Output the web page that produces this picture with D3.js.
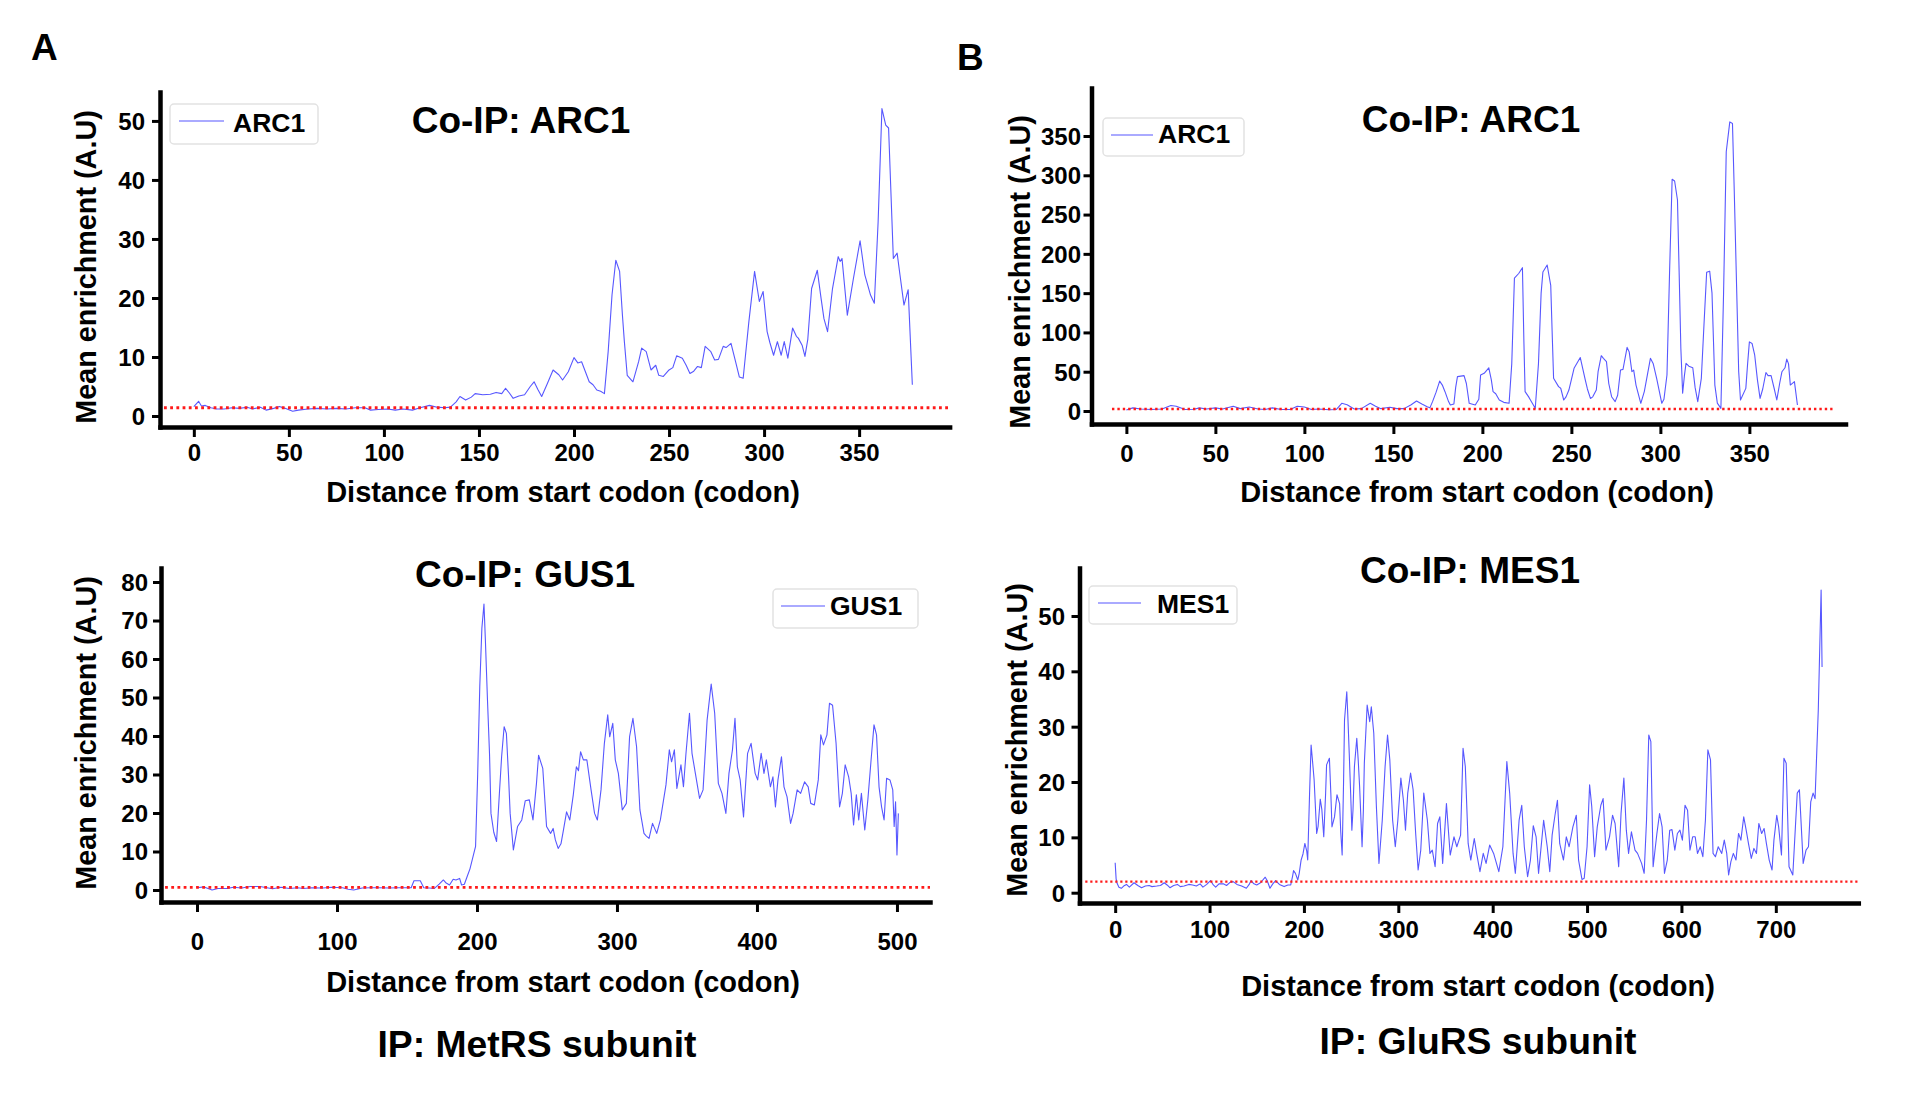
<!DOCTYPE html>
<html><head><meta charset="utf-8">
<script src="https://cdn.jsdelivr.net/npm/d3@7"></script>
<style>
html,body{margin:0;padding:0;background:#fff;}
svg{display:block;}
</style></head><body>
<svg id="fig" width="1932" height="1102"></svg>
<script>
// ---------------- DATA ----------------
// [codon position, mean enrichment]
const arc1MetRS = [[0,1.6],[2.5,2.5],[4,1.7],[6,1.8],[9,1.4],[12,1.2],[16,1.2],[20,1.4],[24,1.3],[28,1.5],[31,1.2],[35,1.5],[38,1.0],[42,1.3],[45,1.6],[48,1.3],[52,0.8],[55,1.0],[60,1.2],[65,1.3],[70,1.2],[75,1.3],[80,1.2],[85,1.4],[90,1.4],[93,1.0],[97,1.1],[102,1.2],[106,1.0],[110,1.2],[115,1.0],[119,1.4],[124,1.8],[128,1.5],[132,1.4],[135,1.5],[138,2.4],[140,3.3],[143,2.7],[146,3.2],[148,3.8],[152,3.6],[156,3.7],[159,4.0],[162,3.8],[164,4.7],[166,3.9],[168,3.0],[171,3.4],[174,3.6],[177,5.0],[179,5.8],[181,4.5],[183,3.3],[186,5.5],[189,7.8],[192,7.0],[194,6.1],[197,7.5],[200,9.9],[202,9.0],[204,9.2],[206,7.5],[208,5.8],[210,5.3],[212,4.4],[214,4.2],[216,3.8],[218,11],[220,20.5],[222,26.4],[224,24.5],[225.5,17],[226.5,12.6],[228,6.9],[231,5.8],[234,9.2],[235.6,11.5],[238,10.9],[240.5,7.8],[243,8.6],[244.6,6.9],[247,6.7],[250,7.8],[252,8.2],[254,10.2],[257,9.8],[259,8.6],[261,7.2],[263,7.6],[265,8.4],[267,8.2],[269,11.8],[272,10.9],[274,9.5],[276,9.6],[278.5,11.8],[280,11.6],[282.6,12.3],[285,9.2],[287,6.6],[289,6.4],[292,16],[295,24.5],[297.5,19.4],[299.5,21.1],[301.6,14.3],[303,12.5],[305,10.3],[307,12.6],[309,10.3],[310.6,12.6],[312.5,9.8],[315,14.9],[317,13.5],[318,13.2],[320,12],[321.5,10.1],[323,13],[325,21.6],[328,24.7],[330,19.9],[331.5,16.5],[333.4,14.3],[336,21.6],[339,27],[340,26.2],[341,26.7],[343.8,17.1],[347,23.3],[350.5,29.7],[353,23.9],[356,20.5],[358,19.1],[360,32.9],[362,52.1],[364,49.3],[365.5,48.8],[368,26.7],[370,27.6],[371.5,23.9],[373.6,18.8],[375.8,21.4],[378,5.3]];

const arc1GluRS = [[0,1.3],[3.6,4],[8,2.5],[14,2],[20,2.5],[25,7],[28,6],[33,2],[38,2.2],[41,4],[45,2.5],[50,4],[54,2.5],[60,6],[64,3],[69,5],[74,2.5],[78,2],[82,4],[87,2],[92,2],[96,6],[100,5],[104,2],[108,2.5],[114,1.5],[118,2],[121,9.8],[124,8],[128,2.5],[132,3],[137,9.8],[140,6],[143,3],[148,4.7],[152,3],[156,3],[160,8],[163,12.7],[166,9],[169,5.5],[170.5,4],[172,11.9],[174,24],[176,38],[177.5,33],[179,24.6],[181,12],[182,7.6],[184,9],[185,30],[186,43.7],[189.7,45],[191,35],[192.6,9.8],[194,9],[196,7.6],[198,15],[199,45.8],[201,48],[203.6,55],[205,40],[206,24.6],[207.5,22],[209.5,14],[212,11],[215,9.8],[216.5,60],[218,169],[220.4,175],[222.5,182.4],[223.3,90],[224,24.6],[226,18],[227,14],[229.7,3.4],[231.5,60],[233,150],[234,177],[236.4,185.8],[238.4,160],[239.2,100],[240,41.6],[242.8,31],[244,29],[245.7,14],[247,18],[248.6,26.7],[250,40],[251.5,54.3],[255,68],[257.8,39.5],[259,28],[260.7,16],[262,18],[264,26.7],[265,50],[266.8,70.4],[268,67],[269.7,62.8],[271,35],[272.6,18.2],[274.6,11.9],[276,20],[277.6,52.2],[279,53],[281.3,81],[282.5,75],[284,50],[285,52],[286.3,33],[289,9.8],[291,25],[294.4,67],[296,60],[297.9,41.6],[300.8,9.8],[302,15],[303.7,45.8],[305.2,180],[306.6,295],[308,292.7],[309.6,268.6],[310.5,180],[311.5,80],[312.5,22.5],[313.5,45],[314.4,60.7],[316,57],[318.2,55],[319.5,30],[321,11.9],[323,41.6],[324.5,110],[326,176.5],[327.7,178],[329,150],[330.6,33],[332,10],[334,3.4],[335.5,150],[337,330],[339,368],[340.5,366],[341.5,280],[342.8,160],[344,50],[345,14],[348,28.8],[349,60],[350,88],[351.5,86],[353,71],[354.5,40],[356,16],[357.5,28],[359.3,49],[360.5,45],[362.2,45],[364,28],[365.4,14],[367,35],[368.3,50],[370,55],[371,66],[372,60],[373,33],[375.3,37.3],[377,7.6]];

const gus1MetRS = [[0,0.6],[5,0.8],[10.8,0],[15,0.4],[21.6,0.4],[26,0.7],[32,0.5],[38,0.9],[45,0.9],[50,0.6],[54,0.3],[60,0.7],[66,0.4],[72,0.6],[76,0.4],[82,0.6],[90,0.5],[96,0.7],[104,0.6],[108,0.2],[112,0],[118,0.5],[124,0.6],[130,0.6],[137,0.5],[144,0.6],[150,0.6],[153,0.6],[155,2.4],[159.5,2.4],[162,0.6],[166,0.5],[169.6,0.4],[173,1.5],[176,2.6],[178,1.8],[180.4,1.3],[183,2.8],[185,2.6],[187.6,3],[189,1.3],[191,1.5],[193,3.5],[195,5.5],[196.6,7.8],[199,11.3],[200.5,30],[202,52.8],[203.5,68],[205,74.3],[206,65],[207.5,49.4],[209,35],[210,19.9],[212,15],[214,12.6],[216,25],[217.6,34.6],[219.4,42.4],[221,40.7],[222.5,30],[223.7,19.9],[226,10.4],[229,16.5],[232,18.2],[234.5,23.2],[237.4,23.4],[240,18.2],[242.5,27.7],[244,35],[247,31.6],[249.7,16.5],[252.6,14.7],[254.4,16],[256,13],[258,10.8],[260,12],[261.6,15.2],[264,20.3],[266.3,18.2],[268.8,24.7],[271,32],[272.5,31],[274,35.9],[276,33.8],[278.5,33.8],[281.5,26],[284,19.9],[286,18.2],[288.6,26],[291,38.1],[293.4,45.5],[294.8,39.8],[297,43.3],[298.8,33.8],[301,30.3],[303.8,20.8],[306.7,22.5],[309,39.8],[311.4,44.6],[314,37.2],[316.4,20.8],[319.3,14.7],[321,14],[322.9,13.4],[325.4,17.3],[328.4,14.7],[331,18.2],[335,27.3],[337.4,36.4],[339,33.3],[341,36.4],[342.8,26.4],[345.7,32.5],[347.5,26.8],[349.3,35.5],[351.8,45.9],[353.6,35.5],[356,30.3],[359,23.8],[361.5,26],[364.4,44.2],[367.3,53.5],[369.8,45.9],[372.4,27.7],[375,25.1],[377.8,19.9],[380,30.3],[382.5,36.4],[384.3,44.6],[386,32],[388,28.6],[390.4,19],[393.3,35.5],[395.8,38.1],[398.7,30.3],[400.5,28.6],[403,35.5],[405,30.3],[406.7,33.8],[409.6,26.8],[411.4,29.4],[413.2,21.6],[415,28.6],[417.5,34.6],[419.3,26.8],[421.5,24.2],[424,17.3],[425.8,19.9],[428.7,26],[431.2,25.1],[434,28.1],[436.6,26.8],[438.4,22.5],[441,22.1],[443.8,28.6],[445.6,40.3],[447.5,37.7],[450,40.3],[451.8,48.5],[454,48],[456.5,38.1],[459,21.6],[461,25.1],[463,32.5],[465.5,29.4],[467.3,25.1],[469,16.9],[471,24.7],[472.7,18.2],[474.6,25.1],[477,15.6],[479.2,23.4],[481.7,34.6],[483.6,42.9],[485.4,40.3],[487.2,26.8],[489,21.6],[490.8,18.2],[492.6,29],[495,28.6],[497,26],[498,16.5],[499,22.9],[500,9.1],[501,19.9]];

const mes1GluRS = [[0,5.4],[1,2.5],[2,1.7],[4,1.0],[6.5,0.8],[9,1.2],[12,1.5],[15,1.0],[20,1.8],[24,1.3],[28,0.9],[32,1.2],[36,1.3],[39,1.1],[44,1.2],[48,1.3],[52,1.8],[55,1.4],[58,0.9],[62,1.3],[66,1.5],[69,1.1],[73,1.2],[78,1.5],[82,1.4],[86,1.2],[90,1.6],[93,1.0],[97,1.5],[101,2.2],[104,1.4],[106.5,1.0],[110,1.6],[114.6,1.6],[118,1.3],[122,1.9],[125,2.0],[129,1.5],[134,1.2],[139,0.8],[142,1.5],[144,2.2],[147,1.6],[150,1.4],[154,1.8],[159,2.8],[161,2.2],[164,0.8],[167,1.6],[170,2.2],[174,1.5],[179,1.1],[183,1.4],[186,1.4],[188,3],[189,4],[191,3.5],[193.5,2.3],[195,3.5],[197,5.9],[199,7],[201,8.9],[203,7.5],[204,5.9],[206,18],[207.6,26.7],[209,24],[210.8,20.4],[213.5,10.7],[215,12],[217.3,16.9],[219,15],[221,10.1],[223,18],[224,23.1],[227,24.3],[228.5,18],[229.7,11.9],[232.4,13.7],[235,17.7],[237.8,16.1],[239,11],[240.5,6.8],[242,20],[243,31.2],[245.4,36.3],[246.5,32],[248,25.2],[249.5,18],[250.8,11.3],[252,15],[253.5,22.8],[256,27.9],[257.5,24],[259,19.2],[261.6,8.3],[263,15],[264,23.4],[267,33.9],[269.7,30.9],[271.4,33.6],[274,28.8],[276.8,15.5],[279.5,5.3],[283,13.1],[286,22.8],[288.6,28.5],[291,24],[294,13.1],[296.8,8.3],[299.5,13.1],[302.7,20.7],[305.4,16.7],[307.6,11.3],[310,18],[313,21.6],[315.7,18.6],[318.4,10.7],[321,4.1],[323.8,7.7],[327,18],[330.8,13.1],[333.5,7.1],[336,7.7],[339,4.7],[341.6,12.5],[344,13.7],[347,5.3],[351,16.1],[355,6.8],[359,10.1],[362,8.3],[366,10.4],[368.6,26.1],[371,22.8],[374,8.9],[376.8,5.9],[380.5,9.8],[383,7.1],[386.5,3.8],[390,7.1],[393,5.3],[396.8,8.6],[401,7.1],[406.5,3.8],[410.8,8.3],[415,23.7],[418,18],[421.6,7.1],[424,3.5],[428,13.1],[430.8,15.8],[433.5,8.3],[437,2.9],[440,5.9],[443,12.1],[446,10.1],[448.6,3.5],[451,7.7],[454,13.1],[457.8,8.3],[460.5,3.8],[463,10.4],[466,14],[468.6,16.7],[471,8.9],[475,5.9],[478,10.1],[481,8.3],[485,11.9],[488.6,14],[491,5.9],[494.6,2.4],[497,2.6],[500,8.3],[502.7,19.5],[505,15.5],[508,6.5],[510.8,11.9],[514.6,15.8],[517,17],[520,7.7],[523.8,10.1],[527,14],[529.7,12.5],[533.5,4.7],[536,14.3],[539,20.7],[541.6,11.3],[544,7.1],[547,11],[550.8,7.7],[553.5,7.1],[557.8,5.3],[560.5,3.5],[563,13.1],[565.4,28.5],[567.6,27.3],[570,4.7],[574,10.7],[576.8,14.3],[579.5,11.9],[582,3.5],[585,5.9],[587.6,11.3],[590,11.4],[593,7.7],[595.7,10.7],[598.4,11.3],[601,9.5],[603.8,15.8],[606.5,14.9],[609,7.7],[611.9,10.1],[614.6,10.1],[617,7.1],[620,8.3],[622.7,6.5],[625.4,13.1],[628,25.8],[630.8,24],[633.5,7.1],[636,6.5],[639,8.3],[642.7,7.1],[645.4,9.5],[648,7.1],[650,3.2],[652.4,5.6],[655,7.1],[657.8,5.9],[660.5,10.7],[663,9.5],[666,13.7],[668.6,11.3],[671,8.9],[674,6.2],[676.8,8],[679.5,7.1],[682,12.5],[685,10.7],[687.6,11.6],[690,8.9],[693,5.9],[696,4.1],[698,9.5],[701,14],[703,11.9],[706,6.8],[708.6,24.3],[711,23.4],[714,4.7],[718,3.2],[722.7,18],[725,18.6],[729,5.3],[732,7.7],[734.6,8.3],[737,16.4],[739.5,18],[741.6,17],[745,33],[748,54.7],[749,40.8]];

// tick labels
const xTicksARC1 = [0,50,100,150,200,250,300,350];
const xTicksGUS1 = [0,100,200,300,400,500];
const xTicksMES1 = [0,100,200,300,400,500,600,700];
const yTicksArcMet = [0,10,20,30,40,50];
const yTicksArcGlu = [0,50,100,150,200,250,300,350];
const yTicksGus = [0,10,20,30,40,50,60,70,80];
const yTicksMes = [0,10,20,30,40,50];
// background thresholds (red dotted line)
const thresholdValues = [1.4, 2.5, 0.7, 2.0];

// text
const legendNames = ["ARC1","ARC1","GUS1","MES1"];
const titles = ["Co-IP: ARC1","Co-IP: ARC1","Co-IP: GUS1","Co-IP: MES1"];
const yTitle = "Mean enrichment (A.U)";
const xTitle = "Distance from start codon (codon)";

// ---------------- LAYOUT ----------------
const FONT = "'Liberation Sans', Arial, Helvetica, sans-serif";
const BLUE = "#5757ff";
const panels = [
  {data: arc1MetRS, xTicks: xTicksARC1, yTicks: yTicksArcMet, thr: thresholdValues[0], thrSpan:[-15.7,397.6], thrW:2.8,
   xDomain:[-17.8,397.6], yDomain:[-1.86,54.9], f:{left:160,right:949.6,top:92,bottom:427},
   yLabEnd:145, xTickBase:461, yTitlePos:[96,267], xTitlePos:[563,502], titlePos:[521,133],
   lg:{x:170,y:104,w:148,h:40,l1:179,l2:224,ly:121,tx:233,ty:132}},
  {data: arc1GluRS, xTicks: xTicksARC1, yTicks: yTicksArcGlu, thr: thresholdValues[1], thrSpan:[-8.1,396.7], thrW:2.4,
   xDomain:[-19.6,404], yDomain:[-16.55,411.1], f:{left:1091.5,right:1845.5,top:88,bottom:424},
   yLabEnd:1081, xTickBase:462, yTitlePos:[1030,272], xTitlePos:[1477,502], titlePos:[1471,132],
   lg:{x:1103,y:118,w:141,h:38,l1:1111,l2:1153,ly:135,tx:1158,ty:143}},
  {data: gus1MetRS, xTicks: xTicksGUS1, yTicks: yTicksGus, thr: thresholdValues[2], thrSpan:[-22.8,523.6], thrW:2.8,
   xDomain:[-25.7,523.6], yDomain:[-3.12,83.64], f:{left:161,right:930,top:568,bottom:902},
   yLabEnd:148, xTickBase:950, yTitlePos:[96,733], xTitlePos:[563,992], titlePos:[525,587],
   lg:{x:773,y:589,w:145,h:39,l1:781,l2:825,ly:606,tx:830,ty:615}},
  {data: mes1GluRS, xTicks: xTicksMES1, yTicks: yTicksMes, thr: thresholdValues[3], thrSpan:[-31.7,787.4], thrW:2.2,
   xDomain:[-37.8,787.4], yDomain:[-1.86,58.67], f:{left:1079.5,right:1858.3,top:568,bottom:903},
   yLabEnd:1065, xTickBase:938, yTitlePos:[1027,740], xTitlePos:[1478,996], titlePos:[1470,583],
   lg:{x:1089,y:586,w:148,h:38,l1:1098,l2:1141,ly:603,tx:1157,ty:613}}
];

const svg = d3.select("#fig");
svg.append("rect").attr("width",1932).attr("height",1102).attr("fill","#fff");

panels.forEach((p,i) => {
  const f = p.f;
  const g = svg.append("g");
  const x = d3.scaleLinear().domain(p.xDomain).range([f.left,f.right]);
  const y = d3.scaleLinear().domain(p.yDomain).range([f.bottom,f.top]);

  // data line
  g.append("path").datum(p.data)
    .attr("fill","none").attr("stroke",BLUE).attr("stroke-width",1.1)
    .attr("stroke-linejoin","round")
    .attr("d", d3.line().x(d=>x(d[0])).y(d=>y(d[1])));

  // threshold line
  g.append("line")
    .attr("x1", x(p.thrSpan[0])).attr("x2", x(p.thrSpan[1]))
    .attr("y1", y(p.thr)).attr("y2", y(p.thr))
    .attr("stroke","#ff1a1a").attr("stroke-width",p.thrW)
    .attr("stroke-dasharray", `${p.thrW},${p.thrW+0.6}`);

  // axes
  const xa = g.append("g").attr("transform",`translate(0,${f.bottom})`)
    .call(d3.axisBottom(x).tickValues(p.xTicks).tickSize(10).tickSizeOuter(0).tickFormat(d3.format("d")));
  const ya = g.append("g").attr("transform",`translate(${f.left},0)`)
    .call(d3.axisLeft(y).tickValues(p.yTicks).tickSize(8).tickSizeOuter(0).tickFormat(d3.format("d")));
  [xa,ya].forEach(a=>{
    a.attr("font-family",FONT).attr("font-size",24).attr("font-weight","bold");
    a.select(".domain").attr("stroke","#000").attr("stroke-width",4.5).attr("stroke-linecap","square");
    a.selectAll(".tick line").attr("stroke","#000").attr("stroke-width",3);
    a.selectAll(".tick text").attr("fill","#000");
  });
  xa.selectAll(".tick text").attr("y", p.xTickBase - f.bottom).attr("dy", 0);
  ya.selectAll(".tick text").attr("x", p.yLabEnd - f.left).attr("dy","0.35em");

  // axis titles
  g.append("text").attr("transform",`translate(${p.yTitlePos[0]},${p.yTitlePos[1]}) rotate(-90)`)
    .attr("text-anchor","middle").attr("font-family",FONT).attr("font-weight","bold")
    .attr("font-size",28.8).text(yTitle);
  g.append("text").attr("x",p.xTitlePos[0]).attr("y",p.xTitlePos[1])
    .attr("text-anchor","middle").attr("font-family",FONT).attr("font-weight","bold")
    .attr("font-size",29).text(xTitle);

  // title
  g.append("text").attr("x",p.titlePos[0]).attr("y",p.titlePos[1])
    .attr("text-anchor","middle").attr("font-family",FONT).attr("font-weight","bold")
    .attr("font-size",37).text(titles[i]);

  // legend
  const lg = p.lg;
  g.append("rect").attr("x",lg.x).attr("y",lg.y).attr("width",lg.w).attr("height",lg.h)
    .attr("rx",4).attr("fill","#fff").attr("stroke","#e2e2e2").attr("stroke-width",1.5);
  g.append("line").attr("x1",lg.l1).attr("x2",lg.l2).attr("y1",lg.ly).attr("y2",lg.ly)
    .attr("stroke",BLUE).attr("stroke-width",1.2);
  g.append("text").attr("x",lg.tx).attr("y",lg.ty).attr("font-family",FONT).attr("font-weight","bold")
    .attr("font-size",26.5).text(legendNames[i]);
});

// panel letters and captions
const txt = (s,xp,yp,size,anchor)=>svg.append("text").attr("x",xp).attr("y",yp)
  .attr("text-anchor",anchor||"start").attr("font-family",FONT).attr("font-weight","bold")
  .attr("font-size",size).text(s);
txt("A",31,60,37);
txt("B",957,70,37);
txt("IP: MetRS subunit",537,1057,37.3,"middle");
txt("IP: GluRS subunit",1478,1054,37.3,"middle");
</script>
</body></html>
